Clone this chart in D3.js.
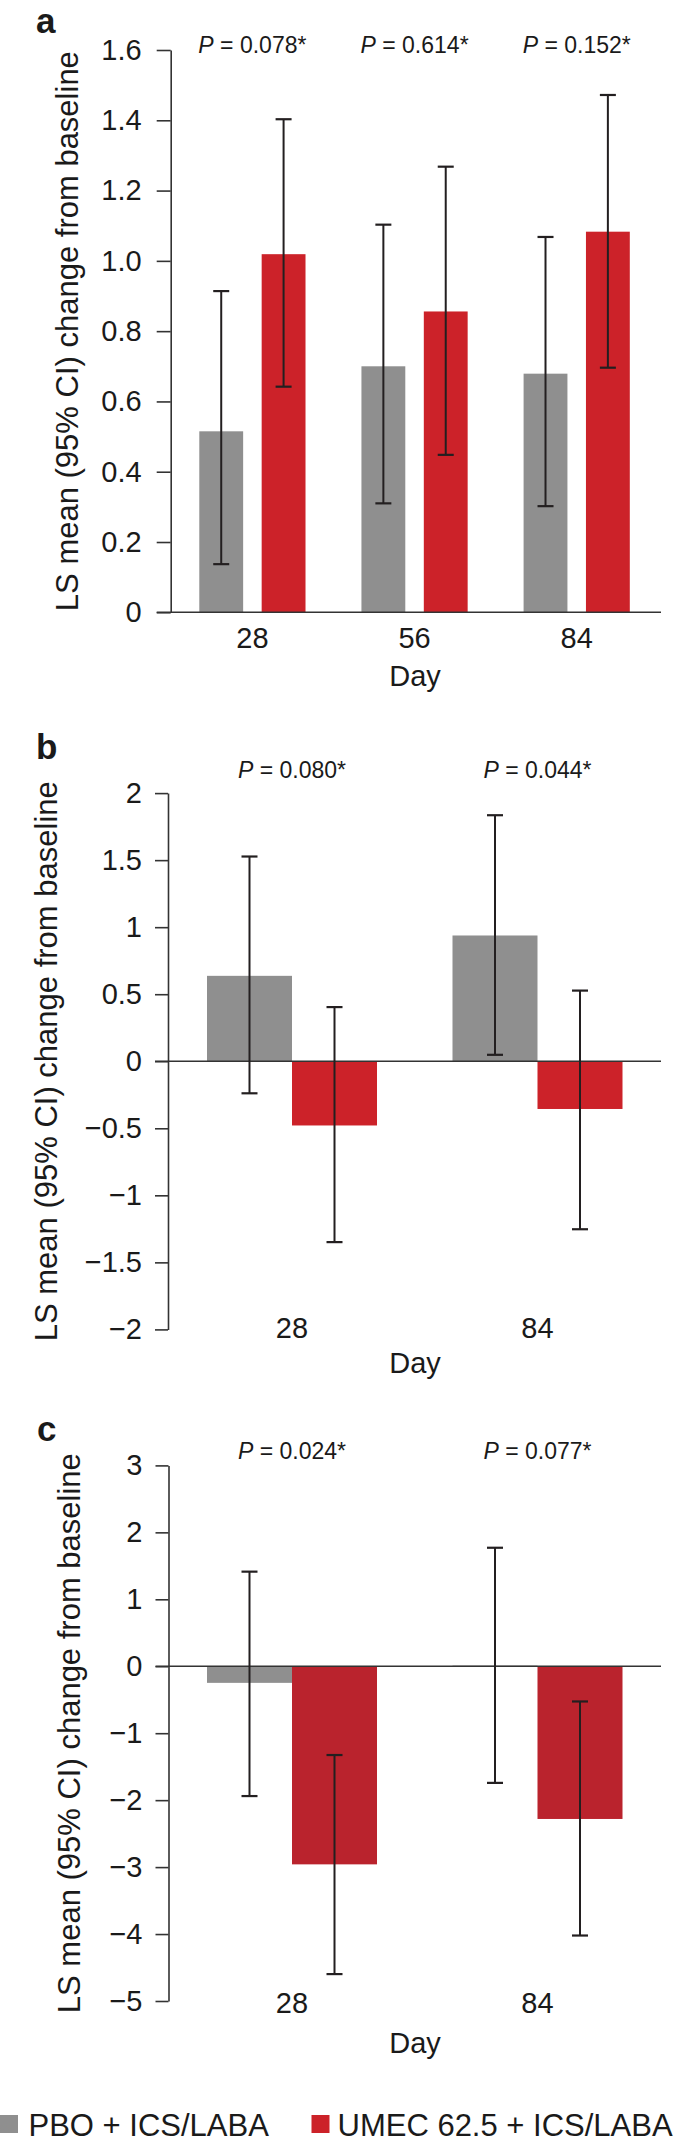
<!DOCTYPE html>
<html>
<head>
<meta charset="utf-8">
<script src="https://cdn.jsdelivr.net/npm/d3@7"></script>
<style>
  html, body { margin: 0; padding: 0; background: #fff; }
  svg { display: block; }
  text { font-family: "Liberation Sans", Arial, Helvetica, sans-serif; fill: #1a1a1a; }
</style>
</head>
<body>
<svg id="chart" width="675" height="2145"></svg>
<script>
// ---------- DATA ----------
const seriesNames = ["PBO + ICS/LABA", "UMEC 62.5 + ICS/LABA"];

// Panel a
const aDays = ["28", "56", "84"];
const aPbo = [0.515, 0.700, 0.679];
const aPboLo = [0.137, 0.310, 0.302];
const aPboHi = [0.914, 1.103, 1.068];
const aUmec = [1.019, 0.856, 1.083];
const aUmecLo = [0.642, 0.448, 0.696];
const aUmecHi = [1.403, 1.268, 1.472];
const aPvals = ["0.078*", "0.614*", "0.152*"];
const aTicks = [0, 0.2, 0.4, 0.6, 0.8, 1.0, 1.2, 1.4, 1.6];

// Panel b
const bDays = ["28", "84"];
const bPbo = [0.637, 0.938];
const bPboLo = [-0.239, 0.048];
const bPboHi = [1.527, 1.835];
const bUmec = [-0.479, -0.356];
const bUmecLo = [-1.349, -1.253];
const bUmecHi = [0.404, 0.527];
const bPvals = ["0.080*", "0.044*"];
const bTicks = [-2, -1.5, -1, -0.5, 0, 0.5, 1, 1.5, 2];

// Panel c
const cDays = ["28", "84"];
const cPbo = [-0.248, 0.01];
const cPboLo = [-1.939, -1.742];
const cPboHi = [1.413, 1.770];
const cUmec = [-2.959, -2.281];
const cUmecLo = [-4.598, -4.022];
const cUmecHi = [-1.326, -0.526];
const cPvals = ["0.024*", "0.077*"];
const cTicks = [-5, -4, -3, -2, -1, 0, 1, 2, 3];

const yTitle = "LS mean (95% CI) change from baseline";
const xTitle = "Day";

// ---------- DRAWING ----------
const svg = d3.select("#chart");
const GRAY = "#8f8f8f";
const INK = "#231f20";

function drawPanel(opt) {
  const g = svg.append("g");
  const y = d3.scaleLinear().domain(opt.yDomain).range(opt.yRange);
  const x = d3.scaleBand().domain(opt.days).range(opt.xRange)
    .paddingInner(opt.groupPad).paddingOuter(0);
  const xs = d3.scaleBand().domain(seriesNames).range([0, x.bandwidth()])
    .paddingInner(opt.subPad).paddingOuter(0);

  const rows = [];
  opt.days.forEach((d, i) => {
    rows.push({day: d, s: seriesNames[0], v: opt.pbo[i], lo: opt.pboLo[i], hi: opt.pboHi[i], c: GRAY});
    rows.push({day: d, s: seriesNames[1], v: opt.umec[i], lo: opt.umecLo[i], hi: opt.umecHi[i], c: opt.red});
  });

  // bars
  g.selectAll("rect.bar").data(rows).enter().append("rect")
    .attr("x", d => x(d.day) + xs(d.s))
    .attr("width", xs.bandwidth())
    .attr("y", d => y(Math.max(0, d.v)))
    .attr("height", d => Math.abs(y(d.v) - y(0)))
    .attr("fill", d => d.c);

  // y axis
  const yAxis = d3.axisLeft(y).tickValues(opt.ticks).tickSize(opt.tickSize)
    .tickSizeOuter(0).tickPadding(opt.tickPad).tickFormat(opt.fmt);
  const ya = g.append("g").attr("transform", `translate(${opt.axisX},0)`).call(yAxis);
  ya.selectAll("path, line").attr("stroke", "#333").attr("stroke-width", 1.6);
  ya.selectAll("text").style("font-size", "29px").attr("fill", "#1a1a1a");

  // horizontal zero line
  g.append("line")
    .attr("x1", opt.axisX - opt.tickSize).attr("x2", 661)
    .attr("y1", y(0)).attr("y2", y(0))
    .attr("stroke", "#333").attr("stroke-width", 1.6);

  // error bars
  const cap = 8;
  const eb = g.selectAll("g.eb").data(rows).enter().append("g")
    .attr("transform", d => `translate(${x(d.day) + xs(d.s) + xs.bandwidth() / 2},0)`);
  eb.append("line").attr("x1", 0).attr("x2", 0)
    .attr("y1", d => y(d.hi)).attr("y2", d => y(d.lo))
    .attr("stroke", INK).attr("stroke-width", 2);
  eb.append("line").attr("x1", -cap).attr("x2", cap)
    .attr("y1", d => y(d.hi)).attr("y2", d => y(d.hi))
    .attr("stroke", INK).attr("stroke-width", 2.2);
  eb.append("line").attr("x1", -cap).attr("x2", cap)
    .attr("y1", d => y(d.lo)).attr("y2", d => y(d.lo))
    .attr("stroke", INK).attr("stroke-width", 2.2);

  // category labels
  g.selectAll("text.cat").data(opt.days).enter().append("text")
    .attr("x", d => x(d) + x.bandwidth() / 2)
    .attr("y", opt.catY).attr("dy", "0.35em")
    .attr("text-anchor", "middle").style("font-size", "29px")
    .text(d => d);

  // Day title
  g.append("text").attr("x", 415).attr("y", opt.dayY).attr("dy", "0.35em")
    .attr("text-anchor", "middle").style("font-size", "29px").text(xTitle);

  // P values
  const pt = g.selectAll("text.p").data(opt.pvals).enter().append("text")
    .attr("x", (d, i) => x(opt.days[i]) + x.bandwidth() / 2)
    .attr("y", opt.pY).attr("dy", "0.35em")
    .attr("text-anchor", "middle").style("font-size", "23px");
  pt.append("tspan").style("font-style", "italic").text("P");
  pt.append("tspan").text(d => " = " + d);

  // y title
  const midY = (opt.yRange[0] + opt.yRange[1]) / 2;
  g.append("text")
    .attr("transform", `translate(${opt.titleX},${midY}) rotate(-90)`)
    .attr("text-anchor", "middle").style("font-size", "31px")
    .text(yTitle);

  // panel letter
  g.append("text").attr("x", opt.letterX).attr("y", opt.letterY)
    .style("font-size", "35px").style("font-weight", "bold").text(opt.letter);
}

drawPanel({
  letter: "a", letterX: 36, letterY: 33,
  days: aDays, pbo: aPbo, pboLo: aPboLo, pboHi: aPboHi,
  umec: aUmec, umecLo: aUmecLo, umecHi: aUmecHi, pvals: aPvals, ticks: aTicks,
  yDomain: [0, 1.6], yRange: [612.3, 50], axisX: 170.7, tickSize: 14, tickPad: 15,
  xRange: [199.3, 629.8], groupPad: 0.345, subPad: 0.297,
  fmt: d => d === 0 ? "0" : d3.format(".1f")(d),
  catY: 637.6, dayY: 676, pY: 44.5, titleX: 78, red: "#cc2229"
});

drawPanel({
  letter: "b", letterX: 36, letterY: 759,
  days: bDays, pbo: bPbo, pboLo: bPboLo, pboHi: bPboHi,
  umec: bUmec, umecLo: bUmecLo, umecHi: bUmecHi, pvals: bPvals, ticks: bTicks,
  yDomain: [-2, 2], yRange: [1329.4, 793.1], axisX: 168, tickSize: 13, tickPad: 13,
  xRange: [207, 622.5], groupPad: 0.3075, subPad: 0,
  fmt: d3.format(""),
  catY: 1327.5, dayY: 1362.5, pY: 770.2, titleX: 57, red: "#cc2229"
});

drawPanel({
  letter: "c", letterX: 37, letterY: 1441,
  days: cDays, pbo: cPbo, pboLo: cPboLo, pboHi: cPboHi,
  umec: cUmec, umecLo: cUmecLo, umecHi: cUmecHi, pvals: cPvals, ticks: cTicks,
  yDomain: [-5, 3], yRange: [2001, 1465.4], axisX: 168.5, tickSize: 13, tickPad: 13,
  xRange: [207, 622.5], groupPad: 0.3075, subPad: 0,
  fmt: d3.format(""),
  catY: 2003, dayY: 2043, pY: 1450.7, titleX: 80, red: "#ba232d"
});

// legend
const legendColors = [GRAY, "#cc2229"];
const legendX = [0, 311.5];
const lg = svg.append("g").selectAll("g").data(seriesNames).enter().append("g")
  .attr("transform", (d, i) => `translate(${legendX[i]},2115)`);
lg.append("rect").attr("x", 0).attr("y", 0).attr("width", 18).attr("height", 18)
  .attr("fill", (d, i) => legendColors[i]);
lg.append("text").attr("x", (d, i) => i === 0 ? 28.5 : 26).attr("y", 20.5)
  .style("font-size", "31px").text(d => d);
</script>
</body>
</html>
